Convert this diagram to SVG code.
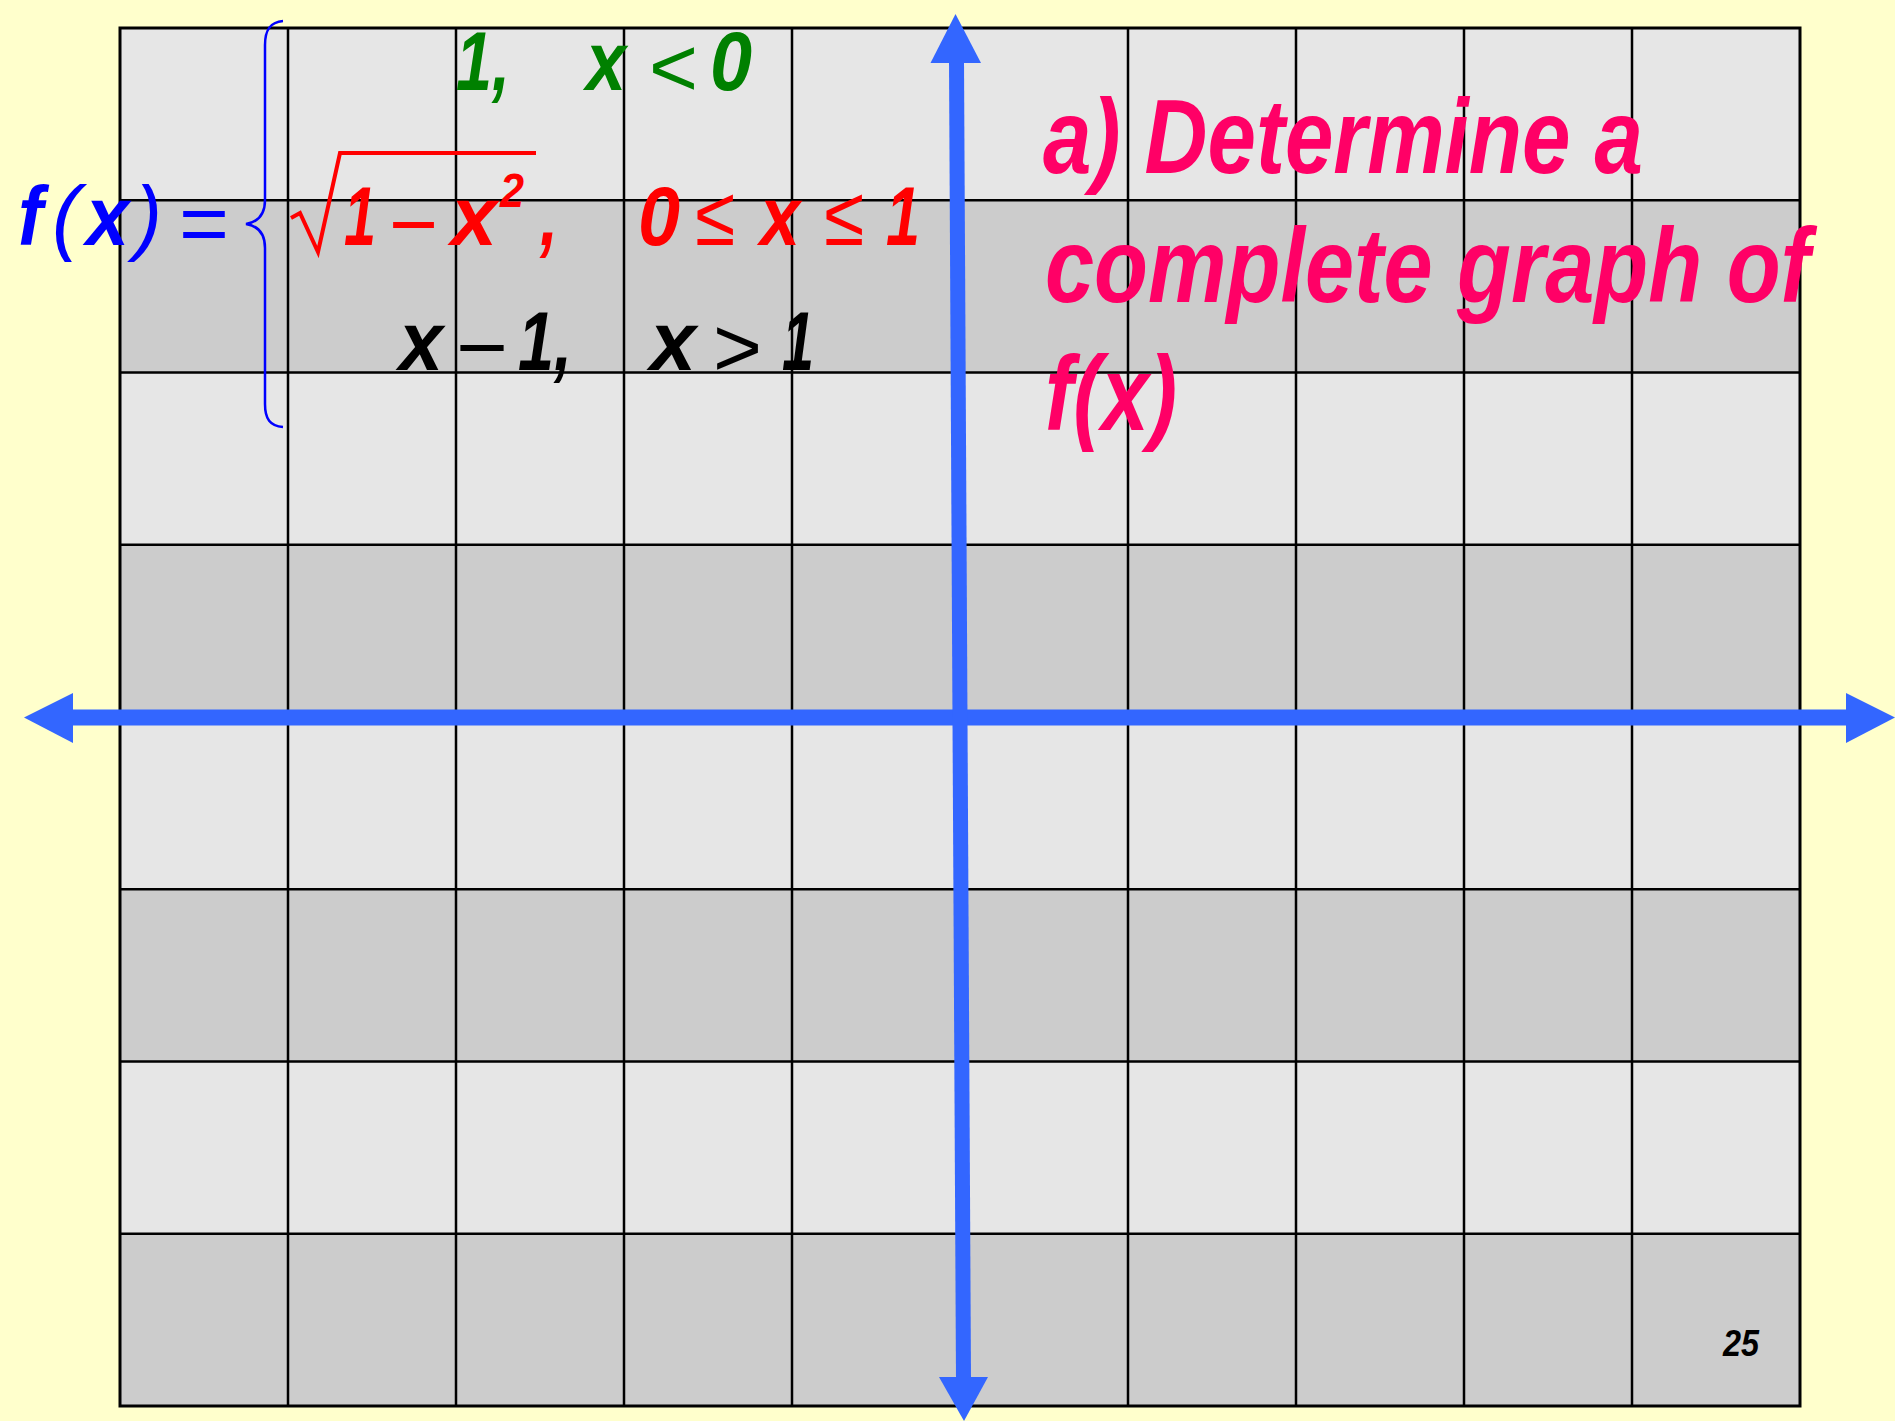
<svg xmlns="http://www.w3.org/2000/svg" width="1895" height="1421" viewBox="0 0 1895 1421">
<style>
.light{fill:#e6e6e6}
.dark{fill:#cccccc}
.gl{stroke:#000;stroke-width:2.5;fill:none}
.bi{font-family:"Liberation Sans",Arial,sans-serif;font-weight:bold;font-style:italic}
.op{font-family:"Liberation Sans",Arial,sans-serif;font-weight:normal}
.ax{stroke:#3366ff;fill:none}
.ah{fill:#3366ff}
</style>
<rect x="0" y="0" width="1895" height="1421" fill="#ffffcc"/>
<g id="grid">
<rect class="light" x="120" y="28" width="1680" height="172.25"/>
<rect class="dark" x="120" y="200.25" width="1680" height="172.25"/>
<rect class="light" x="120" y="372.5" width="1680" height="172.25"/>
<rect class="dark" x="120" y="544.75" width="1680" height="172.25"/>
<rect class="light" x="120" y="717" width="1680" height="172.25"/>
<rect class="dark" x="120" y="889.25" width="1680" height="172.25"/>
<rect class="light" x="120" y="1061.5" width="1680" height="172.25"/>
<rect class="dark" x="120" y="1233.75" width="1680" height="172.25"/>
<path class="gl" d="M288,28V1406M456,28V1406M624,28V1406M792,28V1406M960,28V1406M1128,28V1406M1296,28V1406M1464,28V1406M1632,28V1406M120,200.25H1800M120,372.5H1800M120,544.75H1800M120,717H1800M120,889.25H1800M120,1061.5H1800M120,1233.75H1800"/>
<rect x="120" y="28" width="1680" height="1378" fill="none" stroke="#000" stroke-width="3"/>
</g>
<g id="connectors">
<line class="ax" x1="70" y1="717.5" x2="1850" y2="717.5" stroke-width="16"/>
<polygon class="ah" points="24,717.5 73,693 73,743"/>
<polygon class="ah" points="1895,717.5 1846,693 1846,743"/>
<line class="ax" x1="956.5" y1="60" x2="963.5" y2="1380" stroke-width="15"/>
<polygon class="ah" points="955.5,14 930.5,63 981,63"/>
<polygon class="ah" points="964,1421 939,1377 988,1377"/>
</g>
<g id="formula">
<g fill="#0000ff">
<text class="bi" x="18" y="245" font-size="84" textLength="25" lengthAdjust="spacingAndGlyphs">f</text>
<text class="op" x="52" y="245" font-size="84" font-style="italic" textLength="28" lengthAdjust="spacingAndGlyphs">(</text>
<text class="bi" x="86" y="245" font-size="84" textLength="43" lengthAdjust="spacingAndGlyphs">x</text>
<text class="op" x="135" y="245" font-size="84" font-style="italic" textLength="27" lengthAdjust="spacingAndGlyphs">)</text>
<text class="op" x="179" y="252" font-size="84" textLength="50" lengthAdjust="spacingAndGlyphs">=</text>
</g>
<path d="M283,21 C270,22 265,30 265,45 L265,200 C265,215 258,222 246,224 C258,226 265,233 265,248 L265,404 C265,419 270,426 283,427" fill="none" stroke="#0000ff" stroke-width="2.5"/>
<g fill="#008000">
<text class="bi" x="456" y="90" font-size="84" textLength="54" lengthAdjust="spacingAndGlyphs">1,</text>
<text class="bi" x="586" y="90" font-size="84" textLength="40" lengthAdjust="spacingAndGlyphs">x</text>
<text class="op" x="649" y="96" font-size="84" textLength="49" lengthAdjust="spacingAndGlyphs">&lt;</text>
<text class="bi" x="710" y="90" font-size="84" textLength="42" lengthAdjust="spacingAndGlyphs">0</text>
</g>
<g fill="#ff0000">
<polyline points="291,218 300,213 318,252 340,153 536,153" fill="none" stroke="#ff0000" stroke-width="4"/>
<text class="bi" x="344" y="245" font-size="84" textLength="32" lengthAdjust="spacingAndGlyphs">1</text>
<text class="op" x="389" y="253" font-size="84" textLength="49" lengthAdjust="spacingAndGlyphs">−</text>
<text class="bi" x="451" y="245" font-size="84" textLength="46" lengthAdjust="spacingAndGlyphs">x</text>
<text class="bi" x="500" y="207" font-size="48" textLength="24" lengthAdjust="spacingAndGlyphs">2</text>
<text class="bi" x="540" y="245" font-size="84" textLength="18" lengthAdjust="spacingAndGlyphs">,</text>
<text class="bi" x="638" y="245" font-size="84" textLength="42" lengthAdjust="spacingAndGlyphs">0</text>
<text class="op" x="695" y="245" font-size="84" textLength="40" lengthAdjust="spacingAndGlyphs">≤</text>
<text class="bi" x="760" y="245" font-size="84" textLength="40" lengthAdjust="spacingAndGlyphs">x</text>
<text class="op" x="824" y="245" font-size="84" textLength="40" lengthAdjust="spacingAndGlyphs">≤</text>
<text class="bi" x="886" y="245" font-size="84" textLength="34" lengthAdjust="spacingAndGlyphs">1</text>
</g>
<g fill="#000000">
<text class="bi" x="399" y="370" font-size="84" textLength="44" lengthAdjust="spacingAndGlyphs">x</text>
<text class="op" x="456" y="376" font-size="84" textLength="52" lengthAdjust="spacingAndGlyphs">−</text>
<text class="bi" x="518" y="370" font-size="84" textLength="54" lengthAdjust="spacingAndGlyphs">1,</text>
<text class="bi" x="650" y="370" font-size="84" textLength="46" lengthAdjust="spacingAndGlyphs">x</text>
<text class="op" x="713" y="376" font-size="84" textLength="49" lengthAdjust="spacingAndGlyphs">&gt;</text>
<text class="bi" x="782" y="370" font-size="84" textLength="32" lengthAdjust="spacingAndGlyphs">1</text>
</g>
</g>
<g id="prompt" fill="#ff0066">
<text class="bi" x="1043" y="173" font-size="105" textLength="600" lengthAdjust="spacingAndGlyphs">a) Determine a</text>
<text class="bi" x="1045" y="302" font-size="105" textLength="765" lengthAdjust="spacingAndGlyphs">complete graph of</text>
<text class="bi" x="1045" y="430" font-size="105" textLength="132" lengthAdjust="spacingAndGlyphs">f(x)</text>
</g>
<g id="page-number">
<text class="bi" x="1723" y="1356" font-size="37" textLength="36" lengthAdjust="spacingAndGlyphs" fill="#000">25</text>
</g>
</svg>
